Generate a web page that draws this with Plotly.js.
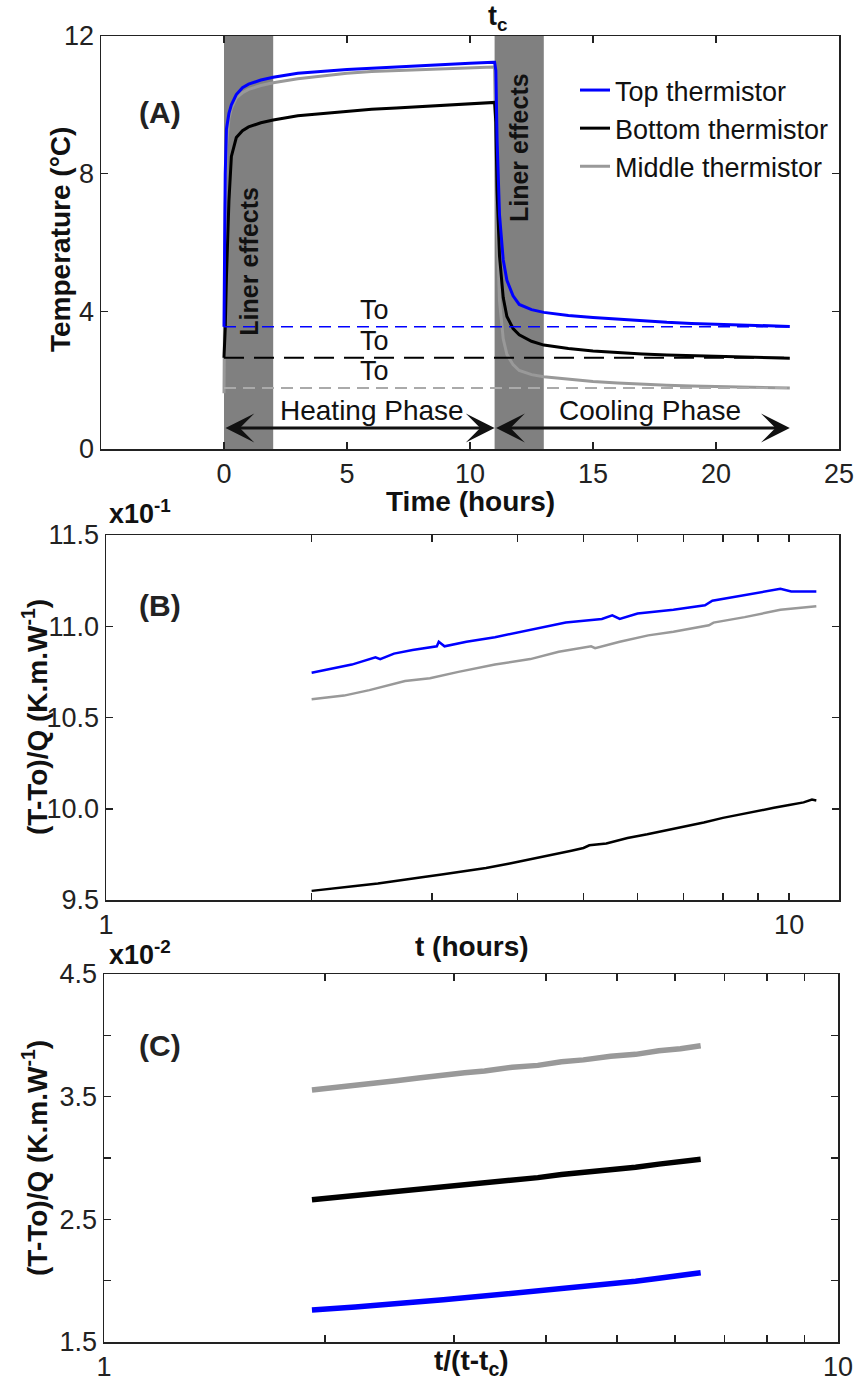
<!DOCTYPE html>
<html><head><meta charset="utf-8">
<script src="https://cdn.plot.ly/plotly-3.0.1.min.js"></script>
<style>html,body{margin:0;padding:0;background:#fff}#chart{width:859px;height:1383px}</style>
</head><body><div id="chart"></div>
<script>
// ---------- Panel A: temperature vs time ----------
const timeA = [0, 0.02, 0.05, 0.1, 0.2, 0.3, 0.5, 0.75, 1.0, 1.5, 2.0, 3.0, 4.0, 5.0, 6.0, 7.0, 8.0, 9.0, 10.0, 10.95, 11.0, 11.05, 11.1, 11.2, 11.35, 11.5, 11.75, 12.0, 12.5, 13.0, 14.0, 15.0, 16.0, 17.0, 18.0, 19.0, 20.0, 21.0, 22.0, 23.0];
const topA = [3.55, 6.0, 8.0, 9.3, 9.75, 10.0, 10.3, 10.5, 10.6, 10.72, 10.8, 10.92, 10.98, 11.03, 11.06, 11.1, 11.15, 11.18, 11.21, 11.24, 11.24, 11.0, 9.0, 6.8, 5.5, 4.9, 4.45, 4.2, 4.05, 3.97, 3.88, 3.82, 3.77, 3.72, 3.68, 3.65, 3.63, 3.6, 3.58, 3.56];
const bottomA = [2.65, 2.9, 3.5, 5.0, 7.2, 8.5, 9.05, 9.25, 9.36, 9.48, 9.56, 9.68, 9.75, 9.81, 9.87, 9.91, 9.95, 9.99, 10.03, 10.07, 10.07, 9.5, 7.5, 5.6, 4.4, 3.85, 3.5, 3.32, 3.13, 3.02, 2.92, 2.85, 2.8, 2.76, 2.73, 2.71, 2.69, 2.67, 2.66, 2.64];
const middleA = [1.62, 4.5, 7.0, 8.8, 9.6, 9.9, 10.2, 10.35, 10.45, 10.56, 10.64, 10.76, 10.85, 10.92, 10.97, 11.0, 11.03, 11.05, 11.08, 11.1, 11.05, 9.0, 6.5, 4.3, 3.2, 2.75, 2.45, 2.28, 2.16, 2.1, 2.02, 1.96, 1.92, 1.88, 1.85, 1.83, 1.82, 1.8, 1.78, 1.77];
const toLevels = [3.55, 2.65, 1.77];          // top, bottom, middle initial temperatures
const linerBands = [[0, 2], [11, 13]];
const tc = 11;
const seriesNames = ['Top thermistor', 'Bottom thermistor', 'Middle thermistor'];

// ---------- Panel B: (T-To)/Q vs t (heating) ----------
const tBTop = [2.0, 2.16, 2.29, 2.48, 2.52, 2.64, 2.81, 3.05, 3.07, 3.13, 3.37, 3.71, 4.18, 4.71, 5.32, 5.51, 5.65, 6.0, 6.77, 7.53, 7.72, 8.61, 9.14, 9.71, 10.07, 10.57, 10.96];
const valBTop = [10.745, 10.77, 10.79, 10.83, 10.82, 10.85, 10.87, 10.89, 10.915, 10.89, 10.915, 10.94, 10.98, 11.02, 11.04, 11.06, 11.04, 11.07, 11.09, 11.115, 11.14, 11.17, 11.19, 11.205, 11.19, 11.19, 11.19];
const tBMid = [2.0, 2.23, 2.43, 2.74, 2.98, 3.28, 3.71, 4.18, 4.60, 5.13, 5.2, 5.65, 6.22, 6.77, 7.63, 7.75, 8.61, 9.71, 10.96];
const valBMid = [10.60, 10.62, 10.65, 10.70, 10.715, 10.75, 10.79, 10.82, 10.86, 10.89, 10.88, 10.915, 10.95, 10.97, 11.005, 11.02, 11.05, 11.09, 11.11];
const tBBot = [2.0, 2.15, 2.3, 2.5, 2.7, 2.9, 3.1, 3.3, 3.6, 3.9, 4.2, 4.5, 4.8, 5.0, 5.1, 5.4, 5.8, 6.2, 6.6, 7.0, 7.5, 8.0, 8.5, 9.0, 9.5, 10.0, 10.5, 10.8, 10.96];
const valBBot = [9.55, 9.565, 9.575, 9.59, 9.61, 9.625, 9.64, 9.655, 9.675, 9.70, 9.725, 9.745, 9.77, 9.785, 9.80, 9.81, 9.84, 9.86, 9.88, 9.90, 9.925, 9.95, 9.97, 9.99, 10.005, 10.02, 10.035, 10.05, 10.045];

// ---------- Panel C: (T-To)/Q vs t/(t-tc) (cooling) ----------
const xC = [1.92, 2.0, 2.1, 2.2, 2.35, 2.5, 2.7, 2.9, 3.1, 3.3, 3.6, 3.9, 4.2, 4.5, 4.9, 5.3, 5.7, 6.1, 6.5];
const valCMid = [3.555, 3.565, 3.58, 3.59, 3.615, 3.63, 3.655, 3.67, 3.695, 3.71, 3.74, 3.755, 3.785, 3.80, 3.83, 3.845, 3.875, 3.89, 3.915];
const valCBot = [2.66, 2.67, 2.68, 2.695, 2.71, 2.725, 2.745, 2.765, 2.78, 2.795, 2.82, 2.84, 2.865, 2.88, 2.905, 2.925, 2.95, 2.965, 2.99];
const valCTop = [1.76, 1.765, 1.775, 1.785, 1.80, 1.81, 1.83, 1.845, 1.86, 1.875, 1.895, 1.915, 1.935, 1.95, 1.975, 1.995, 2.02, 2.04, 2.065];

// tick labels
const ticksAx = [0, 5, 10, 15, 20, 25];
const ticksAy = [0, 4, 8, 12];
const logTicks = [1, 2, 3, 4, 5, 6, 7, 8, 9, 10];
const logTickText = ['1', '', '', '', '', '', '', '', '', '10'];
const ticksBy = [9.5, 10.0, 10.5, 11.0, 11.5];
const ticksCy = [1.5, 2.0, 2.5, 3.0, 3.5, 4.0, 4.5];
const ticksCyText = ['1.5', '', '2.5', '', '3.5', '', '4.5'];

// ---------- styling ----------
const W = 859, H = 1383;
const FONT = 'Liberation Sans, Arial, sans-serif';
const BLUE = '#0000ff', BLACK = '#000000', GREY = '#999999';
const colors = [BLUE, BLACK, GREY];
const px = v => v / W, py = v => 1 - v / H;

const traces = [];
[[middleA, 2], [bottomA, 1], [topA, 0]].forEach(([vals, i]) => {
  traces.push({x: timeA, y: vals, type: 'scatter', mode: 'lines', name: seriesNames[i],
    line: {color: colors[i], width: 3}, xaxis: 'x', yaxis: 'y', legendrank: i + 1, showlegend: true});
});
const dashes = ['12px,7px', '20px,10px', '12px,7px'];
toLevels.forEach((lv, i) => {
  traces.push({x: [timeA[0], timeA[timeA.length - 1]], y: [lv, lv], type: 'scatter', mode: 'lines',
    line: {color: i === 2 ? '#aaaaaa' : colors[i], width: i === 0 ? 1.5 : 2, dash: dashes[i]},
    xaxis: 'x', yaxis: 'y', showlegend: false, hoverinfo: 'skip'});
});
[[tBMid, valBMid, GREY], [tBBot, valBBot, BLACK], [tBTop, valBTop, BLUE]].forEach(([x, y, c]) => {
  traces.push({x, y, type: 'scatter', mode: 'lines', line: {color: c, width: 2.5}, xaxis: 'x2', yaxis: 'y2', showlegend: false});
});
[[valCMid, GREY], [valCBot, BLACK], [valCTop, BLUE]].forEach(([y, c]) => {
  traces.push({x: xC, y, type: 'scatter', mode: 'lines', line: {color: c, width: 5.5}, xaxis: 'x3', yaxis: 'y3', showlegend: false});
});

const axBase = {showline: true, linecolor: '#222', linewidth: 1.5, mirror: 'ticks', ticks: 'inside',
  ticklen: 7, tickwidth: 1.5, tickcolor: '#222', showgrid: false, zeroline: false, automargin: false,
  tickfont: {family: FONT, size: 27, color: '#222'}, fixedrange: true};

const shapes = linerBands.map(b => ({type: 'rect', xref: 'x', yref: 'y domain', x0: b[0], x1: b[1], y0: 0, y1: 1,
  fillcolor: '#808080', line: {width: 0}, layer: 'below'}));

const bold = s => '<b>' + s + '</b>';
const ann = [];
const txt = (text, x, y, opts) => ann.push(Object.assign({text, x, y, xref: 'paper', yref: 'paper', showarrow: false,
  xanchor: 'center', yanchor: 'middle', font: {family: FONT, size: 28, color: '#111'}}, opts || {}));

// panel labels
txt(bold('(A)'), px(160), py(112), {font: {family: FONT, size: 30, color: '#222'}});
txt(bold('(B)'), px(160), py(605), {font: {family: FONT, size: 30, color: '#222'}});
txt(bold('(C)'), px(160), py(1045), {font: {family: FONT, size: 30, color: '#222'}});
// exponent labels
txt(bold('x10<sup>-1</sup>'), px(107), py(512), {xanchor: 'left', font: {family: FONT, size: 27, color: '#111'}});
txt(bold('x10<sup>-2</sup>'), px(107), py(953), {xanchor: 'left', font: {family: FONT, size: 27, color: '#111'}});
// axis titles
txt(bold('Time (hours)'), px(470), py(501));
txt(bold('Temperature (°C)'), px(60), py(240), {textangle: -90});
txt(bold('t (hours)'), px(472), py(946));
txt(bold('(T-To)/Q (K.m.W<sup>-1</sup>)'), px(35), py(717), {textangle: -90});
txt(bold('t/(t-t<sub>c</sub>)'), px(471), py(1362));
txt(bold('(T-To)/Q (K.m.W<sup>-1</sup>)'), px(35), py(1158), {textangle: -90});

const dataTxt = (text, x, y, opts) => ann.push(Object.assign({text, x, y, xref: 'x', yref: 'y', showarrow: false,
  xanchor: 'center', yanchor: 'middle', font: {family: FONT, size: 28, color: '#111'}}, opts || {}));
dataTxt(bold('Liner effects'), (linerBands[0][0] + linerBands[0][1]) / 2, 5.46, {textangle: -90, font: {family: FONT, size: 25, color: '#111'}});
dataTxt(bold('Liner effects'), (linerBands[1][0] + linerBands[1][1]) / 2, 8.75, {textangle: -90, font: {family: FONT, size: 25, color: '#111'}});
toLevels.forEach(lv => dataTxt('To', 6.1, lv, {yanchor: 'bottom', font: {family: FONT, size: 27, color: '#111'}}));
dataTxt('Heating Phase', 6.0, 1.13);
dataTxt('Cooling Phase', 17.3, 1.13);
ann.push({text: bold('t<sub>c</sub>'), x: tc + 0.15, y: py(18), xref: 'x', yref: 'paper', showarrow: false,
  xanchor: 'center', yanchor: 'middle', font: {family: FONT, size: 27, color: '#111'}});
const arrow = (x0, x1) => ann.push({text: '', x: x1, y: 0.61, ax: x0, ay: 0.61, xref: 'x', yref: 'y', axref: 'x', ayref: 'y',
  showarrow: true, arrowside: 'end+start', arrowhead: 3, startarrowhead: 3, arrowsize: 1.6, startarrowsize: 1.6,
  arrowwidth: 3, arrowcolor: '#111', standoff: 0, startstandoff: 0});
arrow(timeA[0], tc);
arrow(tc, timeA[timeA.length - 1]);

const layout = {
  width: W, height: H, margin: {l: 0, r: 0, t: 0, b: 0}, paper_bgcolor: '#fff', plot_bgcolor: '#fff',
  font: {family: FONT, color: '#111'}, showlegend: true,
  legend: {x: px(575), y: py(66), xanchor: 'left', yanchor: 'top', bgcolor: 'rgba(0,0,0,0)',
    font: {family: FONT, size: 27, color: '#111'}, traceorder: 'normal', itemwidth: 30},
  xaxis: Object.assign({}, axBase, {domain: [px(101), px(839)], range: [-5, 25], tickvals: ticksAx, anchor: 'y'}),
  yaxis: Object.assign({}, axBase, {domain: [py(449), py(36)], range: [0, 12], tickvals: ticksAy, anchor: 'x'}),
  xaxis2: Object.assign({}, axBase, {domain: [px(106), px(839)], type: 'log', range: [0, 1.073], tickvals: logTicks, ticktext: logTickText, anchor: 'y2'}),
  yaxis2: Object.assign({}, axBase, {domain: [py(900), py(535)], range: [9.5, 11.5], tickvals: ticksBy, tickformat: '.1f', anchor: 'x2'}),
  xaxis3: Object.assign({}, axBase, {domain: [px(104), px(838)], type: 'log', range: [0, 1], tickvals: logTicks, ticktext: logTickText, anchor: 'y3'}),
  yaxis3: Object.assign({}, axBase, {domain: [py(1342), py(974)], range: [1.5, 4.5], tickvals: ticksCy, ticktext: ticksCyText, anchor: 'x3'}),
  shapes, annotations: ann
};
Plotly.newPlot('chart', traces, layout, {displayModeBar: false, staticPlot: true});
</script></body></html>
